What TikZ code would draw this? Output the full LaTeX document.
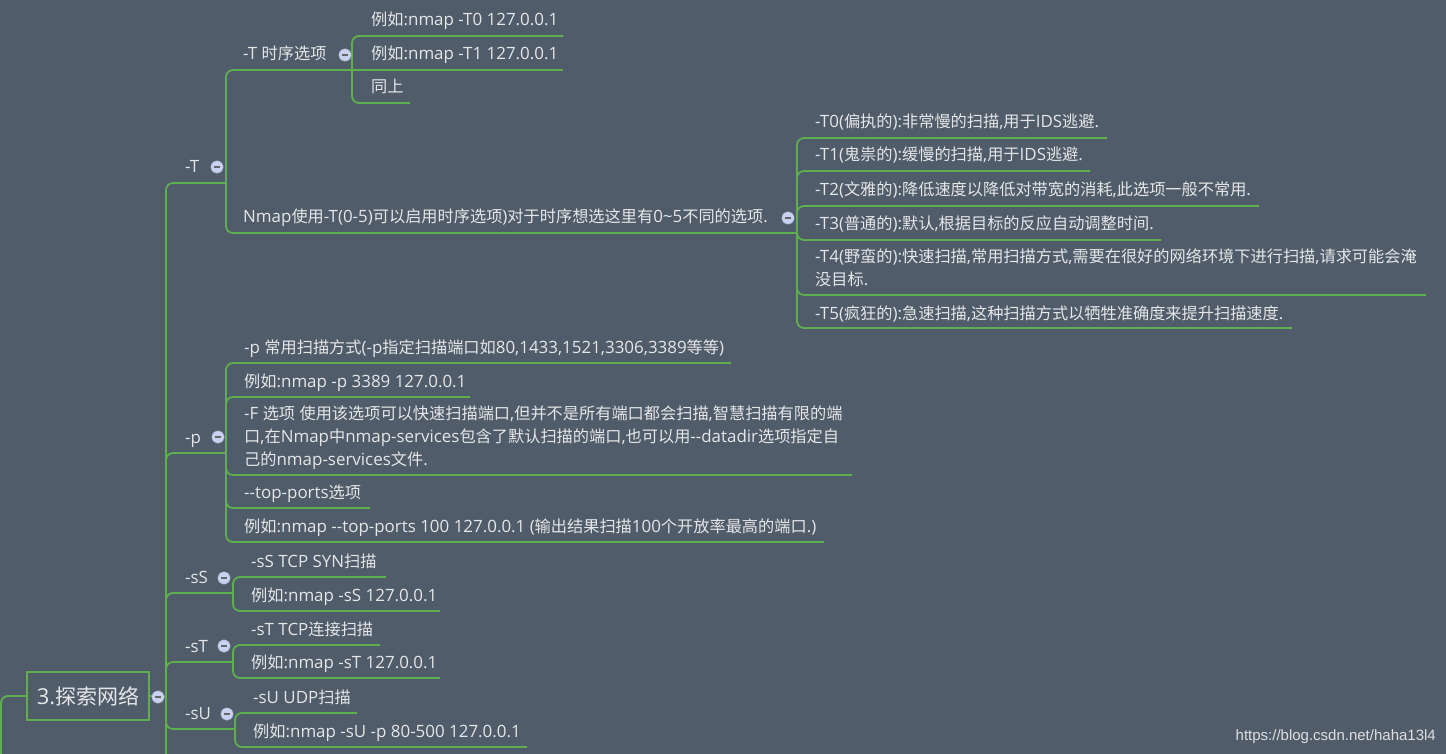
\documentclass[tikz,border=0pt]{standalone}
\usepackage{fontspec}
\setmainfont{Open Sans}
\newfontfamily\cjk{Noto Sans CJK SC}
\newfontfamily\latinf{Open Sans}[Scale=1.045]
\newfontfamily\wmfont{Liberation Sans}
\XeTeXinterchartokenstate=1
\newXeTeXintercharclass\cjkcls
\makeatletter
\count@="4E00
\loop \XeTeXcharclass\count@=\cjkcls \advance\count@ by 1 \ifnum\count@<"A000 \repeat
\makeatother
\XeTeXinterchartoks 0 \cjkcls = {\cjk}
\XeTeXinterchartoks 4095 \cjkcls = {\cjk}
\XeTeXinterchartoks \cjkcls 0 = {\latinf}
\XeTeXinterchartoks \cjkcls 4095 = {\latinf}
\definecolor{bg}{HTML}{505C69}
\definecolor{ln}{HTML}{5FAF4F}
\definecolor{tx}{HTML}{E4E6E8}
\definecolor{cf}{HTML}{C8D2F0}
\tikzset{
  conn/.style={draw=ln, line width=1.8pt, rounded corners=7pt},
  txt/.style={anchor=base west, inner sep=0pt, text=tx, font=\latinf\fontsize{16.2}{19}\selectfont},
  coll/.style={circle, fill=cf, draw=cf!70!black, line width=0.4pt, minimum size=12.5pt, inner sep=0pt,
    path picture={\draw[line width=1.3pt, draw=black!60] ([xshift=-3pt]path picture bounding box.center) -- ([xshift=3pt]path picture bounding box.center);}},
  rootbox/.style={draw=ln, line width=2pt, minimum width=122pt, minimum height=48pt, inner sep=0pt, text=tx, font=\latinf\fontsize{21}{24}\selectfont},
}
\begin{document}
\begin{tikzpicture}[x=1pt,y=-1pt]
\fill[bg] (0,0) rectangle (1446,754);
\useasboundingbox (0,0) rectangle (1446,754);
% junction coordinates
\coordinate (rj) at (166,697);
\coordinate (Tj) at (226,183);
\coordinate (pj) at (226,453);
\coordinate (sSj) at (233,593);
\coordinate (sTj) at (233,662);
\coordinate (sUj) at (235,729);
\coordinate (TSj) at (352,70);
\coordinate (Nj) at (797,233);
\coordinate (down) at (166,770);
\coordinate (lft) at (1,770);
% underline ends
\coordinate (eTS1) at (563,36);
\coordinate (eTS2) at (563,70);
\coordinate (eTS3) at (410,103);
\coordinate (e0) at (1107,138);
\coordinate (e1) at (1090,171);
\coordinate (e2) at (1259,206);
\coordinate (e3) at (1161,240);
\coordinate (e4) at (1426,295);
\coordinate (e5) at (1292,328);
\coordinate (ep1) at (731,363);
\coordinate (ep2) at (470,397);
\coordinate (ep3) at (852,475);
\coordinate (ep4) at (370,508);
\coordinate (ep5) at (824,542);
\coordinate (esS1) at (386,577);
\coordinate (esS2) at (440,611);
\coordinate (esT1) at (380,645);
\coordinate (esT2) at (440,678);
\coordinate (esU1) at (357,713);
\coordinate (esU2) at (527,747);
% root
\node[rootbox] (root) at (88,696) {3.探索网络};
\draw[conn] (root.west) -- (1,696) -- (lft);
\draw[conn] (root.east) -- (rj);
\draw[conn] (rj) -- (down);
% level 1
\draw[conn] (rj) |- (Tj);
\draw[conn] (rj) |- (pj);
\draw[conn] (rj) |- (sSj);
\draw[conn] (rj) |- (sTj);
\draw[conn] (rj) |- (sUj);
% -T children
\draw[conn] (Tj) |- (TSj);
\draw[conn] (Tj) |- (Nj);
\draw[conn] (TSj) |- (eTS1);
\draw[conn] (TSj) -- (eTS2);
\draw[conn] (TSj) |- (eTS3);
\foreach \e in {e0,e1,e2,e3,e4,e5} \draw[conn] (Nj) |- (\e);
% -p children
\foreach \e in {ep1,ep2,ep3,ep4,ep5} \draw[conn] (pj) |- (\e);
% -sS, -sT, -sU children
\draw[conn] (sSj) |- (esS1);
\draw[conn] (sSj) |- (esS2);
\draw[conn] (sTj) |- (esT1);
\draw[conn] (sTj) |- (esT2);
\draw[conn] (sUj) |- (esU1);
\draw[conn] (sUj) |- (esU2);
% texts
\node[txt] (nT) at (185,173) {-T};
\node[txt] (nTS) at (243,60) {-T 时序选项};
\node[txt] (nTS1) at (371,26) {例如:nmap -T0 127.0.0.1};
\node[txt] (nTS2) at (371,60) {例如:nmap -T1 127.0.0.1};
\node[txt] (nTS3) at (371,93) {同上};
\node[txt] (nN) at (243,223) {Nmap使用-T(0-5)可以启用时序选项)对于时序想选这里有0\textasciitilde5不同的选项.};
\node[txt] (t0) at (815,128) {-T0(偏执的):非常慢的扫描,用于IDS逃避.};
\node[txt] (t1) at (815,161) {-T1(鬼祟的):缓慢的扫描,用于IDS逃避.};
\node[txt] (t2) at (815,196) {-T2(文雅的):降低速度以降低对带宽的消耗,此选项一般不常用.};
\node[txt] (t3) at (815,230) {-T3(普通的):默认,根据目标的反应自动调整时间.};
\node[txt] (t4) at (815,262) {-T4(野蛮的):快速扫描,常用扫描方式,需要在很好的网络环境下进行扫描,请求可能会淹};
\node[txt] (t4b) at (815,285) {没目标.};
\node[txt] (t5) at (815,319) {-T5(疯狂的):急速扫描,这种扫描方式以牺牲准确度来提升扫描速度.};
\node[txt] (np) at (185,443) {-p};
\node[txt] (p1) at (244,353) {-p 常用扫描方式(-p指定扫描端口如80,1433,1521,3306,3389等等)};
\node[txt] (p2) at (244,387) {例如:nmap -p 3389 127.0.0.1};
\node[txt] (p3) at (244,419) {-F 选项 使用该选项可以快速扫描端口,但并不是所有端口都会扫描,智慧扫描有限的端};
\node[txt] (p3b) at (244,442) {口,在Nmap中nmap-services包含了默认扫描的端口,也可以用-{}-datadir选项指定自};
\node[txt] (p3c) at (244,465) {己的nmap-services文件.};
\node[txt] (p4) at (244,498) {-{}-top-ports选项};
\node[txt] (p5) at (244,532) {例如:nmap -{}-top-ports 100 127.0.0.1 (输出结果扫描100个开放率最高的端口.)};
\node[txt] (nsS) at (185,583) {-sS};
\node[txt] (sS1) at (251,567) {-sS TCP SYN扫描};
\node[txt] (sS2) at (251,601) {例如:nmap -sS 127.0.0.1};
\node[txt] (nsT) at (185,652) {-sT};
\node[txt] (sT1) at (251,635) {-sT TCP连接扫描};
\node[txt] (sT2) at (251,668) {例如:nmap -sT 127.0.0.1};
\node[txt] (nsU) at (185,719) {-sU};
\node[txt] (sU1) at (253,703) {-sU UDP扫描};
\node[txt] (sU2) at (253,737) {例如:nmap -sU -p 80-500 127.0.0.1};
% collapse buttons
\node[coll] (cR) at (158,697) {};
\node[coll] (cT) at (217,167) {};
\node[coll] (cTS) at (345,55) {};
\node[coll] (cN) at (788,218) {};
\node[coll] (cp) at (218,437) {};
\node[coll] (csS) at (224,578) {};
\node[coll] (csT) at (224,646) {};
\node[coll] (csU) at (227,714) {};
% watermark
\node[anchor=base east, inner sep=0pt, text=white!80!bg, font=\wmfont\fontsize{15}{18}\selectfont] (wm) at (1436,740) {https://blog.csdn.net/haha13l4};
\end{tikzpicture}
\end{document}
